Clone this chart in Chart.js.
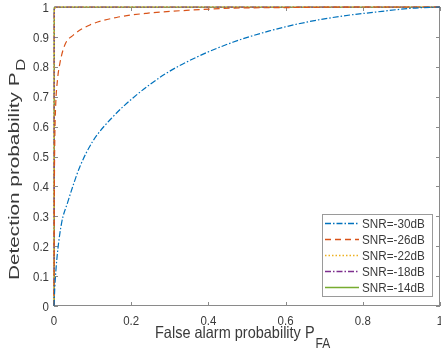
<!DOCTYPE html>
<html lang="en">
<head>
<meta charset="UTF-8">
<title>ROC curves</title>
<script src="https://cdn.jsdelivr.net/npm/chart.js@4/dist/chart.umd.min.js"></script>
<style>
  html, body { margin: 0; padding: 0; background: #fff; }
  canvas { display: block; }
</style>
</head>
<body>
<canvas id="roc" width="441" height="356"></canvas>
<script>
// data
const seriesNames = ['SNR=-30dB', 'SNR=-26dB', 'SNR=-22dB', 'SNR=-18dB', 'SNR=-14dB'];
const seriesColors = ['#0072BD', '#D95319', '#EDB120', '#7E2F8E', '#77AC30'];
const seriesDash = [[6, 2, 1.5, 2], [6, 4], [1.5, 2], [6, 2, 1.5, 2], []];

const pfa30 = [0, 0.002, 0.005, 0.01, 0.02, 0.035, 0.05, 0.067, 0.10, 0.149, 0.214, 0.288, 0.369, 0.463, 0.558, 0.653, 0.748, 0.826, 0.929, 1];
const pd30  = [0, 0.06, 0.12, 0.19, 0.28, 0.345, 0.405, 0.466, 0.55, 0.628, 0.706, 0.776, 0.832, 0.882, 0.92, 0.949, 0.97, 0.982, 0.996, 1];

const pfa26 = [0, 0.0005, 0.001, 0.002, 0.004, 0.009, 0.015, 0.028, 0.05, 0.093, 0.162, 0.24, 0.36, 0.46, 0.6, 0.8, 1];
const pd26  = [0, 0.2, 0.4, 0.55, 0.66, 0.756, 0.81, 0.873, 0.906, 0.94, 0.965, 0.979, 0.99, 0.996, 0.998, 1, 1];

const pfa22 = [0, 0.0005, 0.002, 0.01, 1];
const pd22  = [0, 0.95, 0.995, 1, 1];

const pfa18 = [0, 0.0003, 0.001, 0.005, 1];
const pd18  = [0, 0.98, 0.999, 1, 1];

const pfa14 = [0, 0.0002, 0.001, 1];
const pd14  = [0, 0.995, 1, 1];

const xTicks = [0, 0.2, 0.4, 0.6, 0.8, 1];
const xTickLabels = ['0', '0.2', '0.4', '0.6', '0.8', '1'];
const yTicks = [0, 0.1, 0.2, 0.3, 0.4, 0.5, 0.6, 0.7, 0.8, 0.9, 1];
const yTickLabels = ['0', '0.1', '0.2', '0.3', '0.4', '0.5', '0.6', '0.7', '0.8', '0.9', '1'];

const FONT = '"Liberation Sans", Arial, sans-serif';
const TEXT = '#3a3a3a';
const STRETCH = 1.15;   // the picture is a bit taller than wide

function pts(xs, ys) {
  return xs.map((x, i) => ({ x: x, y: ys[i] }));
}

function line(i, xs, ys) {
  return {
    label: seriesNames[i],
    data: pts(xs, ys),
    borderColor: seriesColors[i],
    backgroundColor: seriesColors[i],
    borderWidth: 1.2,
    borderDash: seriesDash[i],
    pointRadius: 0,
    cubicInterpolationMode: 'monotone',
    clip: 3,
    fill: false
  };
}

function stretchedText(ctx, txt, x, y, size, align, base) {
  ctx.save();
  ctx.translate(x, y);
  ctx.scale(1, STRETCH);
  ctx.font = size + 'px ' + FONT;
  ctx.textAlign = align;
  ctx.textBaseline = base;
  ctx.fillText(txt, 0, 0);
  ctx.restore();
}

const axesPlugin = {
  id: 'matlabAxes',
  beforeDatasetsDraw(chart) {
    const ctx = chart.ctx;
    const a = chart.chartArea;
    const xs = chart.scales.x, ys = chart.scales.y;
    ctx.save();
    ctx.strokeStyle = '#8a8a8a';
    ctx.lineWidth = 1;
    ctx.strokeRect(a.left + 0.5, a.top + 0.5, a.right - a.left - 1, a.bottom - a.top - 1);
    ctx.beginPath();
    xTicks.forEach(v => {
      const px = Math.round(xs.getPixelForValue(v)) + 0.5;
      ctx.moveTo(px, a.bottom); ctx.lineTo(px, a.bottom - 4);
      ctx.moveTo(px, a.top); ctx.lineTo(px, a.top + 4);
    });
    yTicks.forEach(v => {
      const py = Math.round(ys.getPixelForValue(v)) + 0.5;
      ctx.moveTo(a.left, py); ctx.lineTo(a.left + 4, py);
      ctx.moveTo(a.right, py); ctx.lineTo(a.right - 4, py);
    });
    ctx.stroke();
    ctx.restore();
  },
  afterDraw(chart) {
    const ctx = chart.ctx;
    const a = chart.chartArea;
    const xs = chart.scales.x, ys = chart.scales.y;
    ctx.save();
    ctx.fillStyle = TEXT;

    // tick labels
    xTicks.forEach((v, i) => {
      stretchedText(ctx, xTickLabels[i], xs.getPixelForValue(v), a.bottom + 19, 11.5, 'center', 'alphabetic');
    });
    yTicks.forEach((v, i) => {
      stretchedText(ctx, yTickLabels[i], a.left - 5, ys.getPixelForValue(v) + 1, 11.5, 'right', 'middle');
    });

    // x title with subscript
    ctx.font = '14.5px ' + FONT;
    const xt = 'False alarm probability P';
    const xtw = ctx.measureText(xt).width;
    const xStart = 155;
    stretchedText(ctx, xt, xStart, 338, 14.5, 'left', 'alphabetic');
    stretchedText(ctx, 'FA', xStart + xtw + 1, 348, 12, 'left', 'alphabetic');

    // y title, rotated, with subscript
    const yt = 'Detection probability P';
    ctx.save();
    ctx.translate(18.5, 280);
    ctx.rotate(-Math.PI / 2);
    ctx.scale(1.43, 1);
    ctx.font = '14.5px ' + FONT;
    ctx.textAlign = 'left';
    ctx.textBaseline = 'alphabetic';
    ctx.fillText(yt, 0, 0);
    const ytw = ctx.measureText(yt).width;
    ctx.font = '12px ' + FONT;
    ctx.fillText('D', ytw + 1, 6.5);
    ctx.restore();

    // legend inside the axes, bottom right
    const lx = 322, ly = 214, lw = 110, lh = 82;
    ctx.fillStyle = '#fff';
    ctx.fillRect(lx, ly, lw, lh);
    ctx.strokeStyle = '#9a9a9a';
    ctx.lineWidth = 1;
    ctx.strokeRect(lx + 0.5, ly + 0.5, lw, lh);
    seriesNames.forEach((name, i) => {
      const ry = Math.round(ly + 9 + i * 16);
      ctx.save();
      ctx.strokeStyle = seriesColors[i];
      ctx.lineWidth = 1.4;
      ctx.setLineDash(seriesDash[i]);
      ctx.beginPath();
      ctx.moveTo(lx + 3, ry + 0.5);
      ctx.lineTo(lx + 37, ry + 0.5);
      ctx.stroke();
      ctx.restore();
      ctx.fillStyle = TEXT;
      stretchedText(ctx, name, lx + 40, ry + 1, 11.7, 'left', 'middle');
    });
    ctx.restore();
  }
};

new Chart(document.getElementById('roc'), {
  type: 'line',
  data: {
    datasets: [
      line(0, pfa30, pd30),
      line(1, pfa26, pd26),
      line(2, pfa22, pd22),
      line(3, pfa18, pd18),
      line(4, pfa14, pd14)
    ]
  },
  options: {
    responsive: false,
    animation: false,
    layout: { padding: { left: 54, top: 7, right: 1, bottom: 50 } },
    plugins: { legend: { display: false }, tooltip: { enabled: false } },
    scales: {
      x: { type: 'linear', min: 0, max: 1, display: false },
      y: { type: 'linear', min: 0, max: 1, display: false }
    }
  },
  plugins: [axesPlugin]
});
</script>
</body>
</html>
